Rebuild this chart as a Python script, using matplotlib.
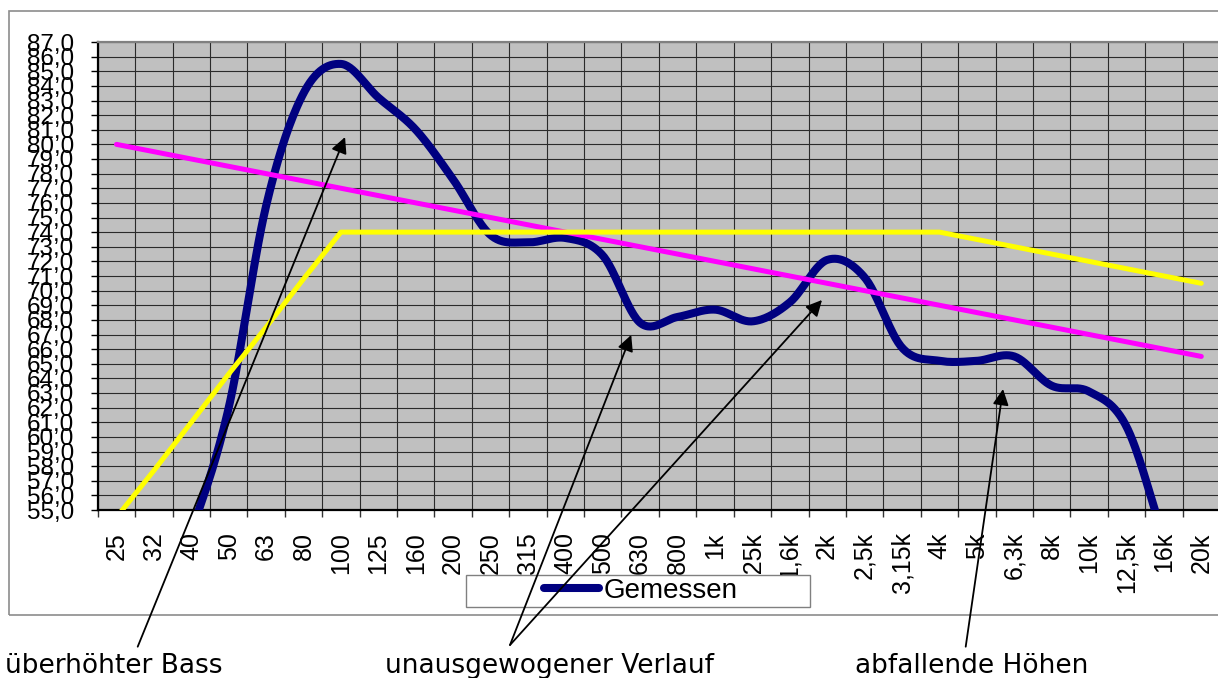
import numpy as np
import matplotlib
matplotlib.use("Agg")
import matplotlib.pyplot as plt
from matplotlib.patches import Rectangle
from matplotlib.lines import Line2D
from matplotlib.text import Annotation

plt.rcParams['font.family'] = ['Liberation Sans', 'DejaVu Sans']

# ---------------- data ----------------
categories = ["25", "32", "40", "50", "63", "80", "100", "125", "160", "200",
              "250", "315", "400", "500", "630", "800", "1k", "1,25k", "1,6k", "2k",
              "2,5k", "3,15k", "4k", "5k", "6,3k", "8k", "10k", "12,5k", "16k", "20k"]

gemessen = [42.0, 47.0, 53.5, 62.0, 75.8, 83.5, 85.5, 83.2, 81.0, 77.6,
            73.8, 73.3, 73.6, 72.4, 67.8, 68.2, 68.7, 67.9, 69.2, 72.1,
            70.9, 66.1, 65.2, 65.2, 65.5, 63.5, 63.1, 60.7, 53.0, 45.0]

soll_magenta = [80.0, 79.5, 79.0, 78.5, 78.0, 77.5, 77.0, 76.5, 76.0, 75.5,
                75.0, 74.5, 74.0, 73.5, 73.0, 72.5, 72.0, 71.5, 71.0, 70.5,
                70.0, 69.5, 69.0, 68.5, 68.0, 67.5, 67.0, 66.5, 66.0, 65.5]

soll_gelb = [54.5, 57.7, 61.0, 64.3, 67.5, 70.8, 74.0, 74.0, 74.0, 74.0,
             74.0, 74.0, 74.0, 74.0, 74.0, 74.0, 74.0, 74.0, 74.0, 74.0,
             74.0, 74.0, 74.0, 73.5, 73.0, 72.5, 72.0, 71.5, 71.0, 70.5]

y_min, y_max = 55, 87
legend_label = "Gemessen"
annotation_texts = ["überhöhter Bass", "unausgewogener Verlauf", "abfallende Höhen"]


def excel_smooth(xs, ys, n=30):
    """Excel-style smoothed line (Catmull-Rom Bezier through the points)."""
    P = np.column_stack([xs, ys]).astype(float)
    out = []
    m = len(P)
    t = np.linspace(0, 1, n)[:, None]
    for i in range(m - 1):
        p0 = P[i - 1] if i > 0 else P[i]
        p1 = P[i]
        p2 = P[i + 1]
        p3 = P[i + 2] if i + 2 < m else P[i + 1]
        c1 = p1 + (p2 - p0) / 6.0
        c2 = p2 - (p3 - p1) / 6.0
        seg = ((1 - t) ** 3) * p1 + 3 * ((1 - t) ** 2) * t * c1 + 3 * (1 - t) * t ** 2 * c2 + t ** 3 * p2
        out.append(seg if i == 0 else seg[1:])
    out = np.vstack(out)
    return out[:, 0], out[:, 1]


W, H = 1218, 678
fig = plt.figure(figsize=(W / 100, H / 100), dpi=100)
fig.patch.set_facecolor('white')

ax_left, ax_right, ax_top, ax_bottom = 97.8, 1220.0, 42.0, 510.0
ax = fig.add_axes([ax_left / W, (H - ax_bottom) / H, (ax_right - ax_left) / W, (ax_bottom - ax_top) / H])
ax.set_facecolor('#C0C0C0')

x = np.arange(len(categories))

# series
sx, sy = excel_smooth(x, gemessen)
line_g, = ax.plot(sx, sy, color='#000080', lw=5.8, solid_capstyle='butt', zorder=3)
ax.plot(x, soll_magenta, color='#FF00FF', lw=3.6, solid_capstyle='round', zorder=4)
ax.plot(x, soll_gelb, color='#FFFF00', lw=3.6, solid_capstyle='round', zorder=5)

ax.set_xlim(-0.5, len(categories) - 0.5)
ax.set_ylim(y_min, y_max)

# y axis
yt = np.arange(y_min, y_max + 1)
ax.set_yticks(yt)
ax.set_yticklabels([f"{v},0" for v in yt], fontsize=17.5)
ax.tick_params(axis='y', which='major', direction='out', length=5, width=1, pad=12, color='black')

# x axis: ticks at boundaries, labels at centres
ax.set_xticks(np.arange(-0.5, len(categories)))
ax.set_xticklabels([])
ax.set_xticks(x, minor=True)
ax.set_xticklabels(categories, minor=True, rotation=90, fontsize=18)
ax.tick_params(axis='x', which='major', direction='out', length=5, width=1, color='#333333')
ax.tick_params(axis='x', which='minor', length=0, pad=16)

ax.set_axisbelow(True)
ax.grid(True, which='major', color='#2a2a2a', lw=0.8)

for s in ['left', 'bottom']:
    ax.spines[s].set_color('black')
    ax.spines[s].set_linewidth(1.6)
ax.spines['top'].set_color('#808080')
ax.spines['top'].set_linewidth(1.6)
ax.spines['right'].set_visible(False)

# outer chart border
fig.add_artist(Rectangle((9 / W, (H - 615) / H), (1240 - 9) / W, (615 - 11) / H,
                         transform=fig.transFigure, fill=False, edgecolor='#8c8c8c', lw=1.2, zorder=0.5))

# legend box
fig.add_artist(Rectangle((465.7 / W, (H - 607) / H), (810 - 465.7) / W, 32 / H,
                         transform=fig.transFigure, facecolor='white', edgecolor='#808080', lw=1.0, zorder=1))
fig.legend([Line2D([0], [0], color='#000080', lw=5.8, solid_capstyle='round')], [legend_label],
           loc='center', bbox_to_anchor=(640.5 / W, (H - 591) / H), frameon=False,
           fontsize=20, handlelength=2.0, handletextpad=0.15, borderpad=0.0)

# annotation texts
fs_ann = 19
fig.text(5 / W, (H - 673) / H, annotation_texts[0], family='DejaVu Sans', fontsize=fs_ann, va='baseline', ha='left')
fig.text(385 / W, (H - 673) / H, annotation_texts[1], family='DejaVu Sans', fontsize=fs_ann, va='baseline', ha='left')
fig.text(855 / W, (H - 673) / H, annotation_texts[2], family='DejaVu Sans', fontsize=fs_ann, va='baseline', ha='left')

# arrows: tail in figure pixels near texts, head pointing to chart features (data coords)
arrow_props = dict(arrowstyle='-|>', mutation_scale=24, lw=1.3, color='black', shrinkA=0, shrinkB=0)
arrows = [((6.11, 80.5), (137.7, 646.7)),
          ((13.76, 66.97), (510.0, 645.0)),
          ((18.86, 69.36), (510.0, 645.0)),
          ((23.70, 63.27), (965.7, 646.7))]
for tip, tail in arrows:
    fig.add_artist(Annotation('', xy=tip, xycoords=ax.transData,
                              xytext=(tail[0] / W, (H - tail[1]) / H), textcoords='figure fraction',
                              arrowprops=arrow_props, zorder=10))

fig.savefig('out.png', dpi=100, facecolor='white')
